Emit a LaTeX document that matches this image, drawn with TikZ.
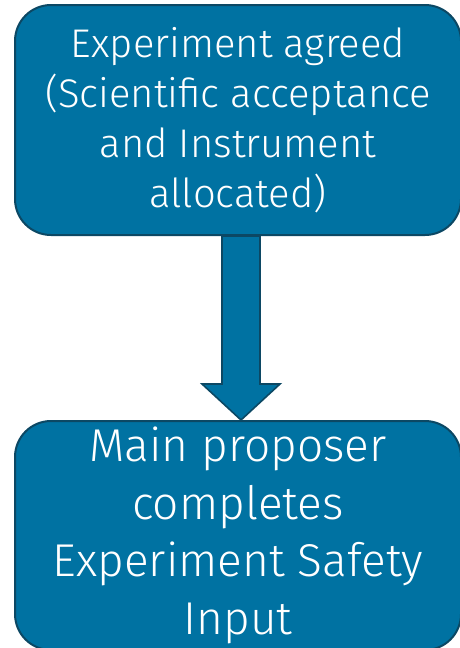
\documentclass[tikz,border=0pt]{standalone}
\usepackage{fontspec}
\setmainfont{Fira Sans}[UprightFont={* Light}]
\usetikzlibrary{calc}
\definecolor{boxfill}{RGB}{0,114,162}
\definecolor{boxedge}{RGB}{12,72,100}
\tikzset{
  flowbox/.style={draw=boxedge, fill=boxfill, line width=2pt, rounded corners=36pt,
    text=white, align=center, inner sep=0pt},
  flowarrow/.style={draw=boxedge, fill=boxfill, line width=1.6pt, line join=miter}
}
\begin{document}
\begin{tikzpicture}[x=1pt,y=-1pt]
\useasboundingbox (0,0) rectangle (459,648);
\node[flowbox, minimum width=446pt, minimum height=230pt,
  font=\fontsize{40}{50}\selectfont] (top) at (238,120)
  {Experiment agreed\\(Scientific acceptance\\and Instrument\\allocated)};
\node[flowbox, minimum width=446pt, minimum height=229pt,
  font=\fontsize{46}{57.5}\selectfont] (bot) at (238,535.5)
  {Main proposer\\completes\\Experiment Safety\\Input};
\draw[flowarrow]
  ($(top.south)+(-16,0)$) -- ($(top.south)+(-16,148)$) -- ($(top.south)+(-36,148)$)
  -- ($(bot.north)+(3,0)$) -- ($(top.south)+(42,148)$) -- ($(top.south)+(22,148)$)
  -- ($(top.south)+(22,0)$) -- cycle;
\end{tikzpicture}
\end{document}
